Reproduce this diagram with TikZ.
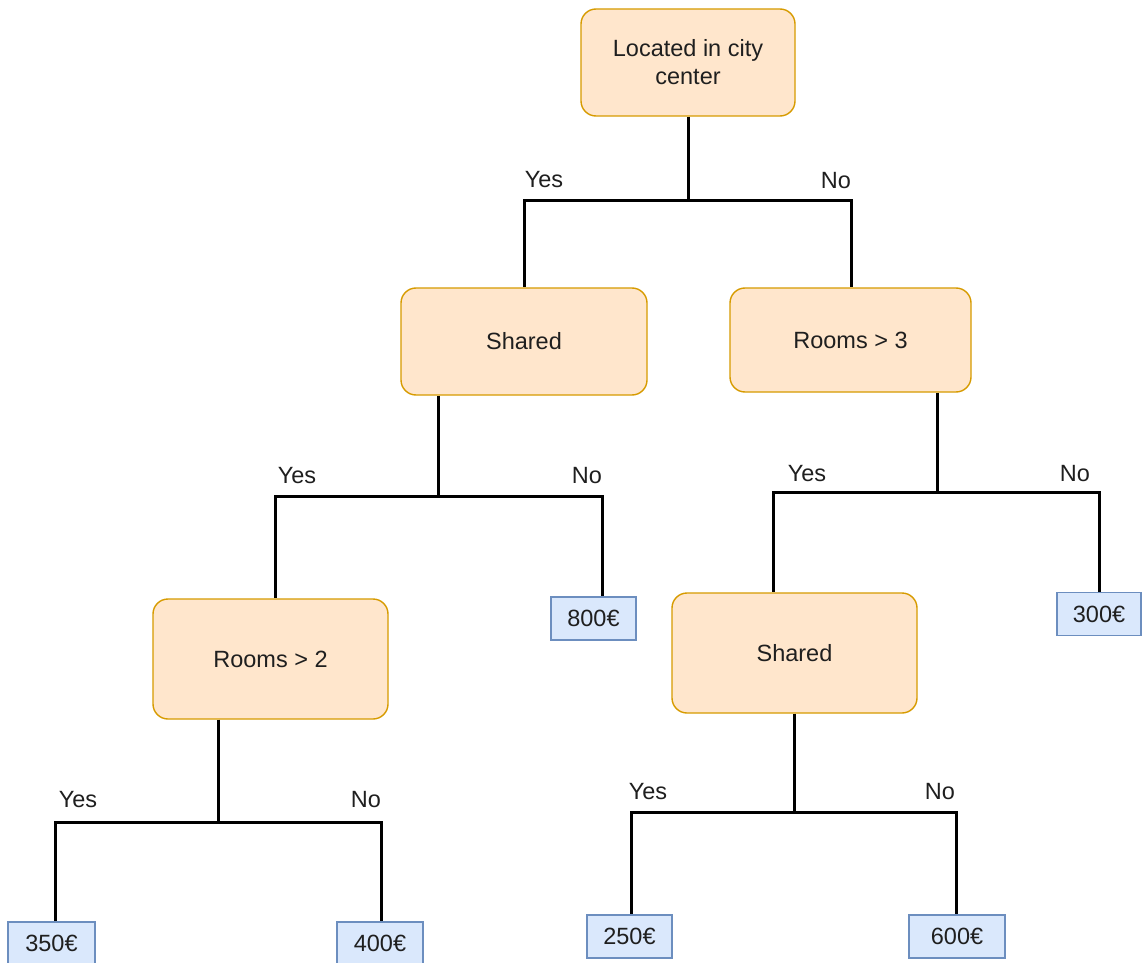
\documentclass[tikz,border=0pt]{standalone}
\usepackage{fontspec}
\setmainfont{Liberation Sans}
\usetikzlibrary{calc}
\definecolor{decfill}{HTML}{FFE6CC}
\definecolor{decdraw}{HTML}{D79B00}
\definecolor{leaffill}{HTML}{DAE8FC}
\definecolor{leafdraw}{HTML}{6C8EBF}
\definecolor{txt}{HTML}{1F1F1F}
\tikzset{
  decision/.style={draw=decdraw, fill=decfill, line width=1.4pt, rounded corners=15pt,
    font=\fontsize{23.5}{28}\selectfont, text=txt, align=center, inner sep=0pt},
  leaf/.style={draw=leafdraw, fill=leaffill, line width=1.4pt,
    font=\fontsize{23.5}{28}\selectfont, text=txt, inner sep=0pt, minimum width=85pt, minimum height=43pt},
  conn/.style={draw=black, line width=3pt},
  lab/.style={font=\fontsize{23.5}{28}\selectfont, text=txt}
}
\begin{document}
\begin{tikzpicture}[x=1pt,y=-1pt]
\useasboundingbox[fill=white] (0,0) rectangle (1144,963);
% decision nodes
\node[decision, minimum width=214pt, minimum height=107pt] (top) at (688,62.5) {Located in city\\center};
\node[decision, minimum width=246pt, minimum height=107pt] (sh1) at (524,341.5) {Shared};
\node[decision, minimum width=241pt, minimum height=104pt] (r3) at (850.5,340) {Rooms {\textgreater} 3};
\node[decision, minimum width=235pt, minimum height=120pt] (r2) at (270.5,659) {Rooms {\textgreater} 2};
\node[decision, minimum width=245pt, minimum height=120pt] (sh2) at (794.5,653) {Shared};
% leaves
\node[leaf] (l800) at (593.5,618.5) {800€};
\node[leaf, minimum width=84pt] (l300) at (1099,614) {300€};
\node[leaf, minimum width=87pt] (l350) at (51.5,943.5) {350€};
\node[leaf, minimum width=86pt] (l400) at (380,943.5) {400€};
\node[leaf] (l250) at (629.5,936.5) {250€};
\node[leaf, minimum width=96pt] (l600) at (957,936.5) {600€};
% junction coordinates
\coordinate (j1) at (688,201);
\coordinate (j2) at (438,496);
\coordinate (j3) at (937,492);
\coordinate (j4) at (218,822);
\coordinate (j5) at (794,812);
% connectors
\draw[conn] (top.south) -- (j1);
\draw[conn] (j1) -| (sh1.north);
\draw[conn] (j1) -| ($(r3.north)+(0.5,0)$);
\draw[conn] (sh1.south -| j2) -- (j2);
\draw[conn] (j2) -| ($(r2.north)+(4.5,0)$);
\draw[conn] (j2) -| ($(l800.north)+(8.5,0)$);
\draw[conn] (r3.south -| j3) -- (j3);
\draw[conn] (j3) -| ($(sh2.north)+(-21.5,0)$);
\draw[conn] (j3) -| (l300.north);
\draw[conn] (r2.south -| j4) -- (j4);
\draw[conn] (j4) -| ($(l350.north)+(3.5,0)$);
\draw[conn] (j4) -| ($(l400.north)+(1,0)$);
\draw[conn] (sh2.south -| j5) -- (j5);
\draw[conn] (j5) -| ($(l250.north)+(1.5,0)$);
\draw[conn] (j5) -| ($(l600.north)+(-1,0)$);
% labels
\node[lab] (y1) at (544,180) {Yes};
\node[lab] (n1) at (836,181) {No};
\node[lab] (y2) at (297,476) {Yes};
\node[lab] (n2) at (587,476) {No};
\node[lab] (y3) at (807,474) {Yes};
\node[lab] (n3) at (1075,474) {No};
\node[lab] (y4) at (78,800) {Yes};
\node[lab] (n4) at (366,800) {No};
\node[lab] (y5) at (648,792) {Yes};
\node[lab] (n5) at (940,792) {No};
\end{tikzpicture}
\end{document}
